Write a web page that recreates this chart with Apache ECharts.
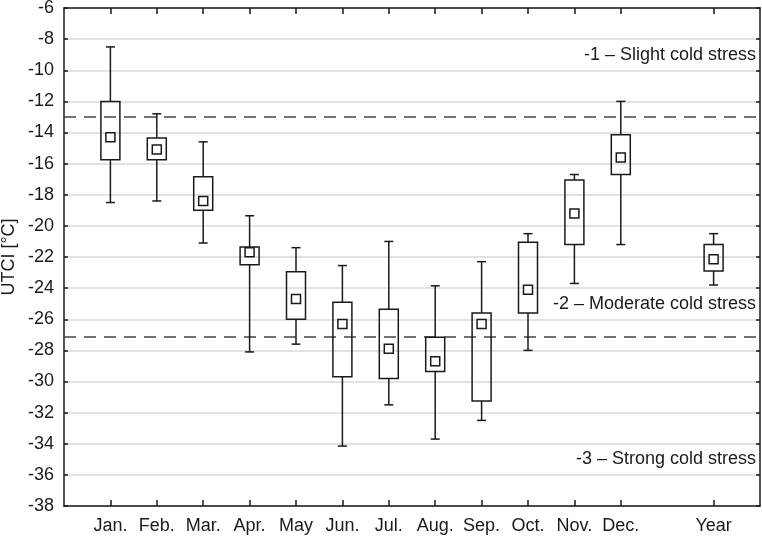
<!DOCTYPE html>
<html>
<head>
<meta charset="utf-8">
<script src="https://cdn.jsdelivr.net/npm/echarts@6/dist/echarts.min.js"></script>
<style>
    html, body { margin: 0; padding: 0; background: #fff; }
    #chart { width: 762px; height: 536px; }
</style>
</head>
<body>
<div id="chart"></div>
<script>
// categories (blank slot between Dec. and Year, blank pads at the ends)
const months = ["Jan.", "Feb.", "Mar.", "Apr.", "May", "Jun.", "Jul.", "Aug.", "Sep.", "Oct.", "Nov.", "Dec."];
const categories = [""].concat(months, [" ", "Year", "  "]);
const boxIndex = [1, 2, 3, 4, 5, 6, 7, 8, 9, 10, 11, 12, 14];

// whisker low / box low / square / box high / whisker high
const whiskerLow = [-18.5, -18.4, -21.1, -28.1, -27.6, -34.15, -31.5, -33.7, -32.5, -28.0, -23.7, -21.2, -23.8];
const boxLow     = [-15.75, -15.75, -19.0, -22.5, -26.0, -29.7, -29.8, -29.35, -31.25, -25.6, -21.2, -16.7, -22.9];
const square     = [-14.3, -15.1, -18.4, -21.7, -24.7, -26.3, -27.9, -28.7, -26.3, -24.1, -19.2, -15.6, -22.15];
const boxHigh    = [-12.0, -14.35, -16.85, -21.35, -22.95, -24.9, -25.35, -27.15, -25.6, -21.05, -17.05, -14.15, -21.2];
const whiskerHigh= [-8.5, -12.8, -14.6, -19.35, -21.4, -22.55, -21.0, -23.85, -22.3, -20.5, -16.7, -12.0, -20.5];

// stress class thresholds and labels
const thresholds = [-13, -27.15];
const classLabels = ["-1 – Slight cold stress", "-2 – Moderate cold stress", "-3 – Strong cold stress"];
const classLabelY = [-9, -25, -35];

const yTicks = { min: -38, max: -6, interval: 2 };

let boxData = boxIndex.map((x, i) => [x, whiskerLow[i], boxLow[i], square[i], boxHigh[i], whiskerHigh[i]]);

const ink = "#1a1a1a";
const font = "Liberation Sans";

let myChart = echarts.init(document.getElementById("chart"));

function renderBox(params, api) {
    let x = api.value(0);
    let pLow = api.coord([x, api.value(1)]);
    let pQ1 = api.coord([x, api.value(2)]);
    let pMid = api.coord([x, api.value(3)]);
    let pQ3 = api.coord([x, api.value(4)]);
    let pHigh = api.coord([x, api.value(5)]);
    let cx = pMid[0];
    let boxW = 19, capW = 9, sq = 9;
    let st = { stroke: ink, lineWidth: 1.5, fill: null };
    return {
        type: "group",
        children: [
            { type: "line", shape: { x1: cx, y1: pHigh[1], x2: cx, y2: pQ3[1] }, style: st },
            { type: "line", shape: { x1: cx, y1: pQ1[1], x2: cx, y2: pLow[1] }, style: st },
            { type: "line", shape: { x1: cx - capW / 2, y1: pHigh[1], x2: cx + capW / 2, y2: pHigh[1] }, style: st },
            { type: "line", shape: { x1: cx - capW / 2, y1: pLow[1], x2: cx + capW / 2, y2: pLow[1] }, style: st },
            { type: "rect", shape: { x: cx - boxW / 2, y: pQ3[1], width: boxW, height: pQ1[1] - pQ3[1] }, style: { stroke: ink, lineWidth: 1.5, fill: "rgba(0,0,0,0)" } },
            { type: "rect", shape: { x: cx - sq / 2, y: pMid[1] - sq / 2, width: sq, height: sq }, style: { stroke: ink, lineWidth: 1.5, fill: "#fff" } },
        ],
    };
}

const showTick = function (index, value) {
    return value.trim() !== "";
};

myChart.setOption({
    animation: false,
    grid: { left: 64, right: 2, top: 8, bottom: 30, containLabel: false, outerBoundsMode: "none" },
    xAxis: [
        {
            type: "category",
            data: categories,
            boundaryGap: false,
            axisLine: { lineStyle: { color: ink, width: 1.5 } },
            axisTick: { inside: true, length: 6, interval: showTick, lineStyle: { color: ink, width: 1.5 } },
            axisLabel: { interval: showTick, color: ink, fontSize: 18, fontFamily: font, margin: 11 },
            splitLine: { show: false },
        },
        {
            type: "category",
            data: categories,
            position: "top",
            boundaryGap: false,
            axisLine: { lineStyle: { color: ink, width: 1.5 } },
            axisTick: { inside: true, length: 6, interval: showTick, lineStyle: { color: ink, width: 1.5 } },
            axisLabel: { show: false },
            splitLine: { show: false },
        },
    ],
    yAxis: [
        {
            type: "value",
            min: yTicks.min,
            max: yTicks.max,
            interval: yTicks.interval,
            name: "UTCI [°C]",
            nameLocation: "middle",
            nameGap: 46,
            nameMoveOverlap: false,
            nameTextStyle: { color: ink, fontSize: 18, fontFamily: font },
            axisLine: { show: true, lineStyle: { color: ink, width: 1.5 } },
            axisTick: { show: true, inside: true, length: 4, lineStyle: { color: ink, width: 1.5 } },
            axisLabel: { color: ink, fontSize: 18, fontFamily: font, margin: 10 },
            splitLine: { show: true, lineStyle: { color: "#d9d9d9", width: 1.5 } },
        },
        {
            type: "value",
            position: "right",
            min: yTicks.min,
            max: yTicks.max,
            interval: yTicks.interval,
            axisLine: { show: true, lineStyle: { color: ink, width: 1.5 } },
            axisTick: { show: true, inside: true, length: 4, lineStyle: { color: ink, width: 1.5 } },
            axisLabel: { show: false },
            splitLine: { show: false },
        },
    ],
    series: [
        {
            type: "custom",
            renderItem: renderBox,
            data: boxData,
            encode: { x: 0, y: [1, 2, 3, 4, 5] },
            z: 3,
            markLine: {
                silent: true,
                symbol: "none",
                label: { show: false },
                lineStyle: { color: "#444", width: 1.5, type: [12, 8] },
                data: thresholds.map((v) => ({ yAxis: v })),
                z: 2,
            },
        },
        {
            // class labels placed on the value scale
            type: "scatter",
            symbolSize: 0,
            itemStyle: { opacity: 1 },
            data: classLabelY.map((v, i) => ({ value: [15, v], name: classLabels[i] })),
            label: {
                show: true,
                position: "left",
                distance: 4,
                formatter: (p) => p.name,
                color: ink,
                fontSize: 18,
                fontFamily: font,
            },
            silent: true,
        },
    ],
});
</script>
</body>
</html>
